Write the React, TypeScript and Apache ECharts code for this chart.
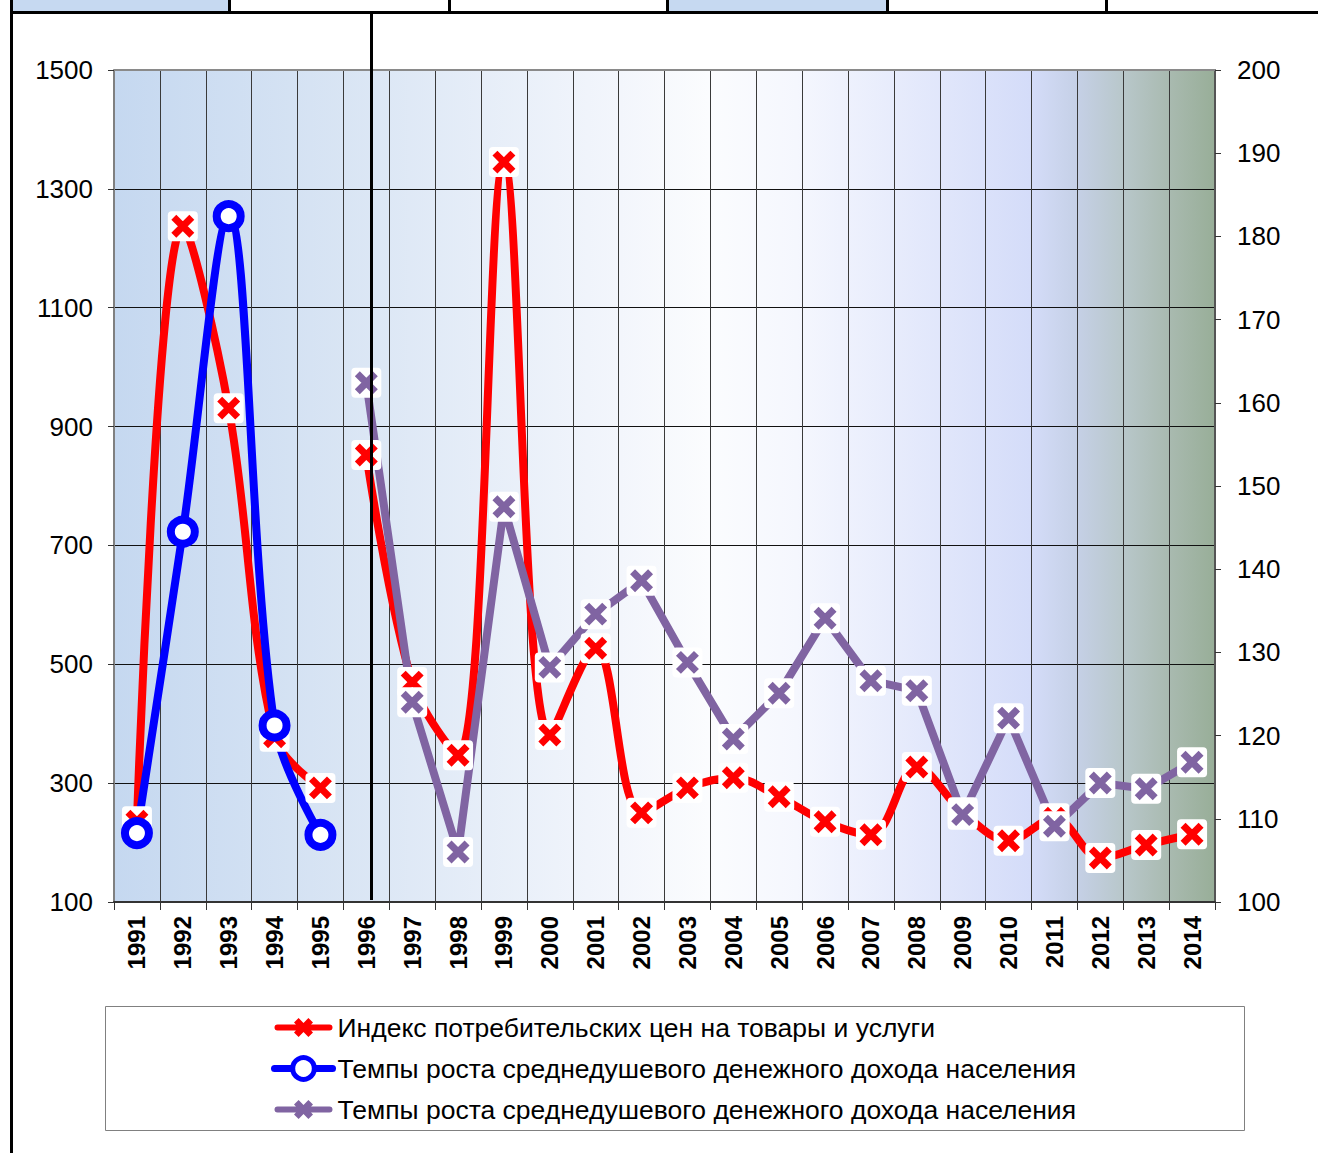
import React, { useEffect, useRef } from "react";
import * as echarts from "echarts";

const years = ["1991","1992","1993","1994","1995","1996","1997","1998","1999","2000","2001","2002","2003","2004","2005","2006","2007","2008","2009","2010","2011","2012","2013","2014"];

const cpiEarly = [236, 1237, 931, 378, 292, null, null, null, null, null, null, null, null, null, null, null, null, null, null, null, null, null, null, null];
const cpiLate = [null, null, null, null, null, 852, 470, 347, 1345, 381, 527, 250, 292, 309, 277, 235, 213, 327, 251, 203, 241, 174, 196, 214];
const incomeEarly = [216, 723, 1254, 397, 213, null, null, null, null, null, null, null, null, null, null, null, null, null, null, null, null, null, null, null];
const incomeLate = [null, null, null, null, null, 162.4, 124.0, 106.0, 147.5, 128.2, 134.6, 138.6, 128.8, 119.6, 125.1, 134.1, 126.6, 125.4, 110.5, 122.1, 109.1, 114.3, 113.6, 116.8];

const CPI_NAME = "Индекс потребительских цен на товары и услуги";
const INC_NAME = "Темпы роста среднедушевого денежного дохода населения";
const INC_NAME2 = "Темпы роста среднедушевого денежного дохода населения ";

function xSymbol(color: string) {
  const svg = `<svg xmlns="http://www.w3.org/2000/svg" width="32" height="32" viewBox="0 0 32 32"><rect x="1" y="1" width="30" height="30" rx="4" ry="4" fill="#ffffff"/><path d="M7 7 L25 25 M25 7 L7 25" stroke="${color}" stroke-width="7" fill="none"/></svg>`;
  return "image://data:image/svg+xml;charset=utf-8," + encodeURIComponent(svg);
}

function legendXIcon() {
  const cx = 29, cy = 11, e = 9.5, a = 4.6;
  const pts = [
    [cx - e, cy - e + a], [cx - e + a, cy - e], [cx, cy - a], [cx + e - a, cy - e], [cx + e, cy - e + a], [cx + a, cy],
    [cx + e, cy + e - a], [cx + e - a, cy + e], [cx, cy + a], [cx - e + a, cy + e], [cx - e, cy + e - a], [cx - a, cy],
  ];
  const xPath = "M" + pts.map((p) => p[0].toFixed(2) + " " + p[1].toFixed(2)).join(" L") + " Z";
  const bar = "M3 8 L55 8 Q58 8 58 11 Q58 14 55 14 L3 14 Q0 14 0 11 Q0 8 3 8 Z";
  return "path://" + bar + " " + xPath;
}

export default function App() {
  const ref = useRef<HTMLDivElement>(null);
  useEffect(() => {
    if (!ref.current) return;
    const chart = echarts.init(ref.current, null, { renderer: "svg" });
    const font = "'Liberation Sans', Arial, sans-serif";
    const bg = {
      type: "linear", x: 0, y: 0, x2: 1, y2: 0,
      colorStops: [
        { offset: 0, color: "#c5d8f0" },
        { offset: 0.21, color: "#d9e5f4" },
        { offset: 0.46, color: "#f3f6fc" },
        { offset: 0.54, color: "#fbfcfe" },
        { offset: 0.62, color: "#f5f7fe" },
        { offset: 0.833, color: "#d4dcf9" },
        { offset: 0.875, color: "#c5d0e6" },
        { offset: 0.917, color: "#b8c7ca" },
        { offset: 0.958, color: "#a9bab0" },
        { offset: 1, color: "#98ae98" },
      ],
    };
    const redX = xSymbol("#ff0000");
    const purX = xSymbol("#8064a2");
    const legIcon = legendXIcon();
    const cells = [
      [12, 228, "#c6d9f1"], [231, 448, "#ffffff"], [451, 666, "#ffffff"],
      [669, 886, "#c6d9f1"], [889, 1105, "#ffffff"], [1108, 1318, "#ffffff"],
    ];
    const graphic: any[] = [];
    cells.forEach((c: any) => {
      graphic.push({ type: "rect", shape: { x: c[0], y: 0, width: c[1] - c[0], height: 11 }, style: { fill: c[2] }, silent: true });
    });
    [229.5, 449.5, 667.5, 887.5, 1106.5].forEach((x) => {
      graphic.push({ type: "line", shape: { x1: x, y1: 0, x2: x, y2: 13 }, style: { stroke: "#000", lineWidth: 3 }, silent: true });
    });
    graphic.push({ type: "line", shape: { x1: 10, y1: 12.5, x2: 1318, y2: 12.5 }, style: { stroke: "#000", lineWidth: 3 }, silent: true });
    graphic.push({ type: "line", shape: { x1: 11.5, y1: 0, x2: 11.5, y2: 1153 }, style: { stroke: "#000", lineWidth: 3 }, silent: true });
    graphic.push({ type: "line", shape: { x1: 114, y1: 70, x2: 1215, y2: 70 }, style: { stroke: "#8a8a8a", lineWidth: 2 }, silent: true, z: 10 });
    graphic.push({ type: "line", shape: { x1: 371.5, y1: 12, x2: 371.5, y2: 900 }, style: { stroke: "#000", lineWidth: 3 }, silent: true, z: 10 });
    graphic.push({ type: "rect", shape: { x: 105.5, y: 1006.5, width: 1139, height: 124 }, style: { fill: "#fff", stroke: "#808080", lineWidth: 1 }, silent: true, z: -1 });

    chart.setOption({
      animation: false,
      textStyle: { fontFamily: font },
      graphic,
      grid: { left: 114, right: 103, top: 70, bottom: 251, show: true, backgroundColor: bg, borderWidth: 0 },
      legend: {
        orient: "vertical", left: 266, top: 1009, itemWidth: 58, itemHeight: 27, itemGap: 14,
        textStyle: { fontSize: 26.5, color: "#000", fontFamily: font },
        lineStyle: { width: 7, cap: "round" },
        formatter: (n: string) => n.trim(),
        data: [
          { name: CPI_NAME, icon: legIcon, itemStyle: { color: "#ff0000", borderWidth: 0 } },
          { name: INC_NAME, itemStyle: { borderWidth: 5 } },
          { name: INC_NAME2, icon: legIcon, itemStyle: { color: "#8064a2", borderWidth: 0 } },
        ],
      },
      xAxis: {
        type: "category", data: years, boundaryGap: true,
        axisLine: { lineStyle: { color: "#333", width: 2 } },
        axisTick: { show: true, length: 8, interval: 0, lineStyle: { color: "#333" } },
        axisLabel: { rotate: 90, fontSize: 24, fontWeight: "bold", color: "#000", margin: 14, interval: 0, fontFamily: font },
        splitLine: { show: true, interval: 0, lineStyle: { color: "#3a3a3a", width: 1 } },
      },
      yAxis: [
        {
          type: "value", min: 100, max: 1500, interval: 200, position: "left",
          axisLine: { show: true, lineStyle: { color: "#808080", width: 2 } },
          axisTick: { show: true, length: 6, lineStyle: { color: "#333" } },
          axisLabel: { fontSize: 26, color: "#000", margin: 21, fontFamily: font, formatter: (v: number) => String(v) },
          splitLine: { show: true, lineStyle: { color: "#111", width: 1 } },
        },
        {
          type: "value", min: 100, max: 200, interval: 10, position: "right",
          axisLine: { show: true, lineStyle: { color: "#555", width: 2 } },
          axisTick: { show: true, length: 6, lineStyle: { color: "#333" } },
          axisLabel: { fontSize: 26, color: "#000", margin: 22, fontFamily: font, formatter: (v: number) => String(v) },
          splitLine: { show: false },
        },
      ],
      series: [
        {
          name: CPI_NAME, type: "line", data: cpiEarly, yAxisIndex: 0, smooth: 0.35,
          symbol: redX, symbolSize: 32, lineStyle: { color: "#ff0000", width: 8, cap: "round" }, itemStyle: { color: "#ff0000" },
        },
        {
          name: CPI_NAME, type: "line", data: cpiLate, yAxisIndex: 0, smooth: 0.35,
          symbol: redX, symbolSize: 32, lineStyle: { color: "#ff0000", width: 8, cap: "round" }, itemStyle: { color: "#ff0000" },
        },
        {
          name: INC_NAME, type: "line", data: incomeEarly, yAxisIndex: 0, smooth: 0.35,
          symbol: "circle", symbolSize: 24, lineStyle: { color: "#0000ff", width: 8, cap: "round" },
          itemStyle: { color: "#ffffff", borderColor: "#0000ff", borderWidth: 8 },
        },
        {
          name: INC_NAME2, type: "line", data: incomeLate, yAxisIndex: 1, smooth: false,
          symbol: purX, symbolSize: 32, lineStyle: { color: "#8064a2", width: 8, cap: "round" }, itemStyle: { color: "#8064a2" },
        },
      ],
    });
    return () => chart.dispose();
  }, []);
  return <div ref={ref} style={{ position: "fixed", left: 0, top: 0, width: 1318, height: 1153, background: "#fff" }} />;
}
